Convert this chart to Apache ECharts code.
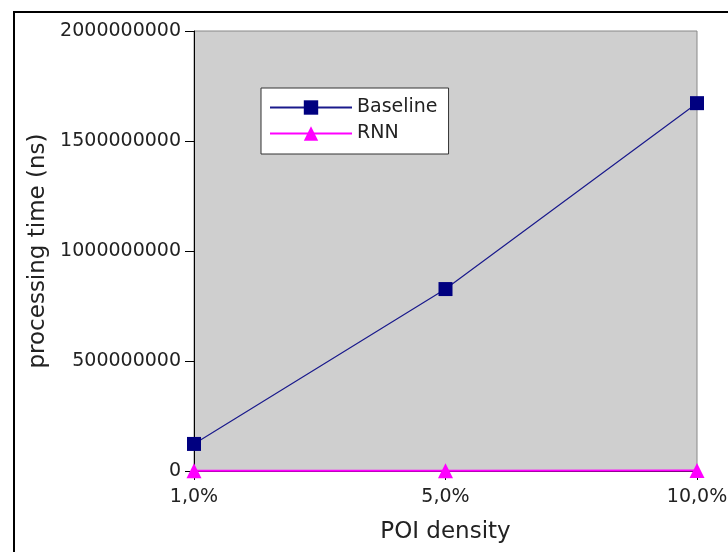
<!DOCTYPE html>
<html><head><meta charset="utf-8">
<script src="https://cdn.jsdelivr.net/npm/echarts@6/dist/echarts.min.js"></script>
<style>html,body{margin:0;padding:0;background:#fff}#c{width:728px;height:552px}</style>
</head><body><div id="c"></div>
<script>
const categories = ['1,0%', '5,0%', '10,0%'];
const baseline = [123000000, 827000000, 1672000000];
const rnn = [1000000, 1500000, 2000000];
const yTicks = [0, 500000000, 1000000000, 1500000000, 2000000000];

const chart = echarts.init(document.getElementById('c'), null, {renderer: 'canvas'});
const FONT = 'DejaVu Sans';
chart.setOption({
  animation: false,
  backgroundColor: '#fff',
  graphic: [{
    type: 'rect', left: 13, top: 11, z: -10, silent: true,
    shape: {width: 740, height: 560},
    style: {fill: '#fff', stroke: '#000', lineWidth: 2}
  }],
  grid: {left: 194, top: 31, right: 31, bottom: 81, show: true,
    outerBoundsMode: 'none', containLabel: false,
    backgroundColor: '#cfcfcf', borderColor: '#888', borderWidth: 1},
  legend: {
    orient: 'vertical', left: 261, top: 88,
    backgroundColor: '#fff', borderColor: '#333', borderWidth: 1,
    padding: [10, 11, 11, 8], itemGap: 7, itemWidth: 82, itemHeight: 18,
    textStyle: {fontFamily: FONT, fontSize: 19, color: '#222'},
    data: ['Baseline', 'RNN']
  },
  xAxis: {
    type: 'category', data: categories, boundaryGap: false,
    name: 'POI density', nameLocation: 'middle', nameGap: 50,
    nameTextStyle: {fontFamily: FONT, fontSize: 23, color: '#222'},
    axisLine: {lineStyle: {color: '#000', width: 1}},
    axisTick: {show: true, length: 9, lineStyle: {color: '#000'}},
    axisLabel: {fontFamily: FONT, fontSize: 19, color: '#222', margin: 17},
    splitLine: {show: false}
  },
  yAxis: {
    type: 'value', min: 0, max: 2000000000, interval: 500000000,
    name: 'processing time (ns)', nameLocation: 'middle', nameGap: 137,
    nameTextStyle: {fontFamily: FONT, fontSize: 23, color: '#222'},
    axisLine: {show: true, lineStyle: {color: '#000', width: 1}},
    axisTick: {show: true, length: 9, lineStyle: {color: '#000'}},
    axisLabel: {fontFamily: FONT, fontSize: 19, color: '#222', margin: 13,
      formatter: v => yTicks.includes(v) ? String(v) : ''},
    splitLine: {show: false}
  },
  series: [
    {name: 'Baseline', type: 'line', data: baseline,
     symbol: 'rect', symbolSize: 14,
     lineStyle: {color: '#1a1a8c', width: 1.2},
     itemStyle: {color: '#000080'}},
    {name: 'RNN', type: 'line', data: rnn,
     symbol: 'triangle', symbolSize: 15,
     lineStyle: {color: '#ff00ff', width: 2},
     itemStyle: {color: '#ff00ff'}}
  ]
});
</script></body></html>
